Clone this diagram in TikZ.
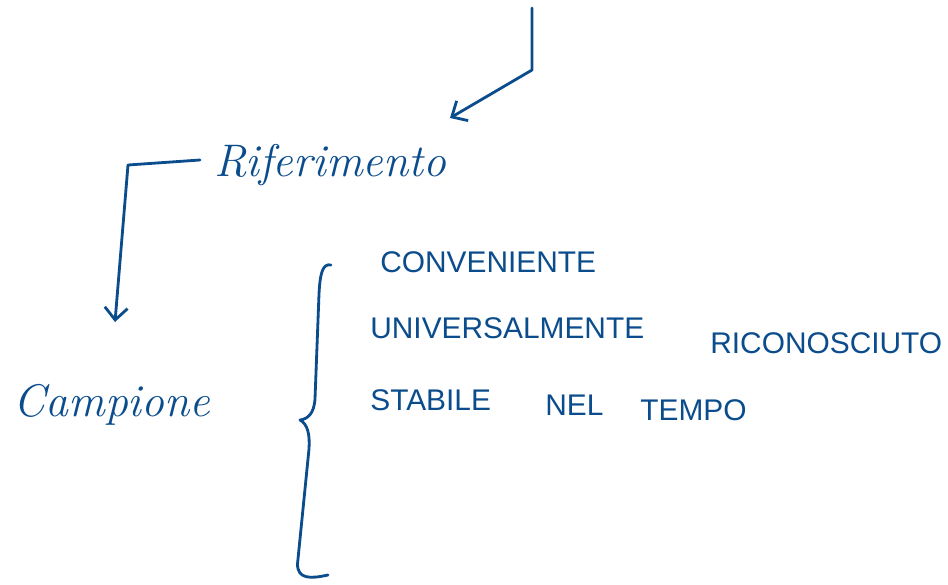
\documentclass[tikz,border=0pt]{standalone}
\usepackage{fontspec}
\newfontfamily\capsfont{Liberation Sans}
\usetikzlibrary{arrows.meta}

\definecolor{ink}{HTML}{0B4C8C}

\tikzset{
  pen/.style={draw=ink, line width=1.6pt, line cap=round, line join=round},
  penarrow/.style={pen, -{Straight Barb[length=7pt, width=13pt, line width=1.6pt]}},
  cursive/.style={text=ink, font=\fontsize{26}{30}\selectfont\itshape, inner sep=0pt},
  caps/.style={text=ink, font=\capsfont\fontsize{17}{20}\selectfont, inner sep=0pt, anchor=west},
}

\begin{document}
\begin{tikzpicture}
\useasboundingbox (0,0) rectangle (18.96,11.68);

\node [cursive] (rif) at (6.6, 8.38) {Riferimento};
\node [cursive] (camp) at (2.24, 3.58) {Campione};

\coordinate (top) at (10.64, 11.52);
\coordinate (bend) at (10.64, 10.28);
\coordinate (rifhook) at (4.0, 8.48);
\coordinate (corner) at (2.56, 8.38);

\draw [penarrow] (top) -- (bend) -- (9.0, 9.32);
\draw [penarrow] (rifhook) -- (corner) -- (2.3, 5.24);

% curly brace
\draw [pen] (6.62, 6.38) .. controls (6.45, 6.42) and (6.4, 6.2) .. (6.38, 5.8)
  -- (6.3, 3.7) .. controls (6.28, 3.4) and (6.15, 3.3) .. (6.0, 3.28)
  .. controls (6.15, 3.2) and (6.2, 3.0) .. (6.18, 2.7)
  -- (5.95, 0.4) .. controls (5.95, 0.1) and (6.2, 0.1) .. (6.56, 0.18);

\node [caps] (conv) at (7.6, 6.44) {CONVENIENTE};
\node [caps] (univ) at (7.4, 5.12) {UNIVERSALMENTE};
\node [caps] (ricon) at (14.2, 4.82) {RICONOSCIUTO};
\node [caps] (stab) at (7.4, 3.68) {STABILE};
\node [caps] (nel) at (10.9, 3.58) {NEL};
\node [caps] (tempo) at (12.8, 3.48) {TEMPO};

\end{tikzpicture}
\end{document}
